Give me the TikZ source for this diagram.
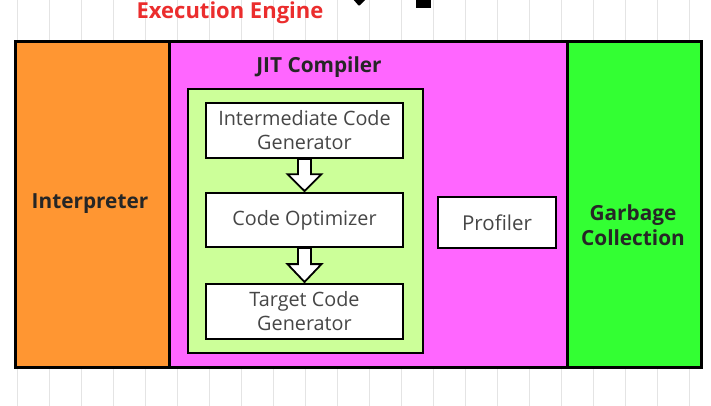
\documentclass[tikz,border=0pt]{standalone}
\usepackage{fontspec}
\setmainfont{Open Sans}
\usetikzlibrary{calc,positioning}
\definecolor{interporange}{RGB}{255,150,50}
\definecolor{jitmagenta}{RGB}{255,102,255}
\definecolor{gcgreen}{RGB}{51,255,51}
\definecolor{jitlime}{RGB}{204,255,153}
\definecolor{titlered}{RGB}{235,45,45}
\definecolor{gridgray}{RGB}{228,228,228}
\definecolor{boxtext}{RGB}{70,70,70}

\tikzset{
  part/.style={draw=black, line width=2.5pt, inner sep=0pt, anchor=north west},
  stagebox/.style={draw=black, line width=2pt, fill=white, inner sep=0pt, minimum width=197pt, minimum height=55pt, align=center, text=boxtext, font=\fontsize{19.8}{24}\selectfont},
  partlabel/.style={font=\fontsize{20.8}{25}\selectfont\bfseries, align=center, text=black!85},
  flowarrow/.style={draw=black, line width=1.8pt, fill=white, line join=miter}
}

\newcommand{\stagearrow}[2]{%
  \draw[flowarrow] ($(#1.south)+(-6.5,0)$) -- ($(#1.south)+(6.5,0)$)
    -- ($(#1.south)!0.46!(#2.north)+(6.5,0)$) -- ($(#1.south)!0.46!(#2.north)+(17,0)$)
    -- ($(#2.north)+(0,-1)$)
    -- ($(#1.south)!0.46!(#2.north)+(-17,0)$) -- ($(#1.south)!0.46!(#2.north)+(-6.5,0)$) -- cycle;}

\begin{document}
\begin{tikzpicture}[x=1pt, y=-1pt]
    \useasboundingbox (0,0) rectangle (711,405);
    \clip (0,0) rectangle (711,405);
    \fill[white] (0,0) rectangle (711,405);
    \begin{scope}[shift={(17,5)}]
      \draw[gridgray, line width=1pt, step=32] (-32,-32) grid (720,420);
    \end{scope}

    \fill[black, rounded corners=1pt] (352,-2) -- (367,-2) -- (359,6) -- cycle;
    \fill[black] (416,-2) rectangle (431,8);
    \node[partlabel, text=titlered, font=\fontsize{22}{26}\selectfont\bfseries] (title) at (230,13) {Execution Engine};

    \node[part, fill=interporange, minimum width=154pt, minimum height=326pt] (interp) at (14,40) {};
    \node[part, fill=jitmagenta, minimum width=398pt, minimum height=326pt] (jit) at (168,40) {};
    \node[part, fill=gcgreen, minimum width=134pt, minimum height=326pt] (gc) at (566,40) {};
    \node[part, fill=jitlime, line width=2pt, minimum width=235pt, minimum height=264pt] (jitcore) at (187,88) {};

    \node[partlabel] (interplabel) at (90,204) {Interpreter};
    \node[partlabel] (jitlabel) at (319,67) {JIT Compiler};
    \node[partlabel] (gclabel) at (633,225) {Garbage\\Collection};

    \node[stagebox] (icg) at (304.5,130.5) {Intermediate Code\\Generator};
    \node[stagebox, minimum height=54pt] (opt) at (304.5,220) {Code Optimizer};
    \node[stagebox] (tcg) at (304.5,311.5) {Target Code\\Generator};
    \node[stagebox, minimum width=118pt, minimum height=51pt, font=\fontsize{20.5}{24}\selectfont] (prof) at (497,222.5) {Profiler};

    \stagearrow{icg}{opt}
    \stagearrow{opt}{tcg}
\end{tikzpicture}
\end{document}
